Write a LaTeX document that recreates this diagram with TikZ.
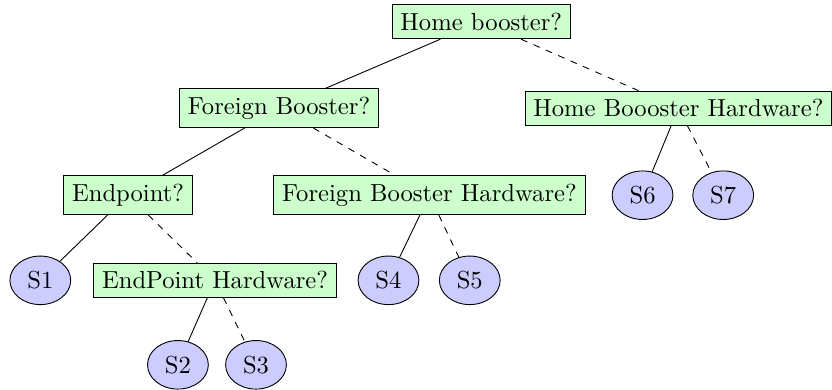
\documentclass[11pt,tikz,border=0pt]{standalone}
\usepackage{tikz}
\usetikzlibrary{shapes.geometric}

\begin{document}
\begin{tikzpicture}[
    question/.style={draw, fill=green!20, rectangle},
    leaf/.style={draw, fill=blue!20, ellipse, minimum width=0.95cm, minimum height=0.7cm},
    yes/.style={},
    no/.style={dashed}
]

\useasboundingbox (0, 0) rectangle (13.0, -6.09);

% root
\node [question] (home) at (7.52, -0.34) {Home booster?};

% level 1
\node [question] (foreign) at (4.36, -1.69) {Foreign Booster?};
\node [question] (homehw) at (10.6, -1.69) {Home Boooster Hardware?};

% level 2
\node [question] (endpoint) at (2.0, -3.05) {Endpoint?};
\node [question] (foreignhw) at (6.71, -3.05) {Foreign Booster Hardware?};
\node [leaf] (s6) at (10.04, -3.05) {S6};
\node [leaf] (s7) at (11.3, -3.05) {S7};

% level 3
\node [leaf] (s1) at (0.63, -4.38) {S1};
\node [question] (endpointhw) at (3.36, -4.38) {EndPoint Hardware?};
\node [leaf] (s4) at (6.07, -4.38) {S4};
\node [leaf] (s5) at (7.34, -4.38) {S5};

% level 4
\node [leaf] (s2) at (2.78, -5.70) {S2};
\node [leaf] (s3) at (4.0, -5.70) {S3};

% edges, solid = yes, dashed = no
\draw [yes] (home) -- (foreign);
\draw [no] (home) -- (homehw);
\draw [yes] (foreign) -- (endpoint);
\draw [no] (foreign) -- (foreignhw);
\draw [yes] (homehw) -- (s6);
\draw [no] (homehw) -- (s7);
\draw [yes] (endpoint) -- (s1);
\draw [no] (endpoint) -- (endpointhw);
\draw [yes] (foreignhw) -- (s4);
\draw [no] (foreignhw) -- (s5);
\draw [yes] (endpointhw) -- (s2);
\draw [no] (endpointhw) -- (s3);

\end{tikzpicture}
\end{document}
